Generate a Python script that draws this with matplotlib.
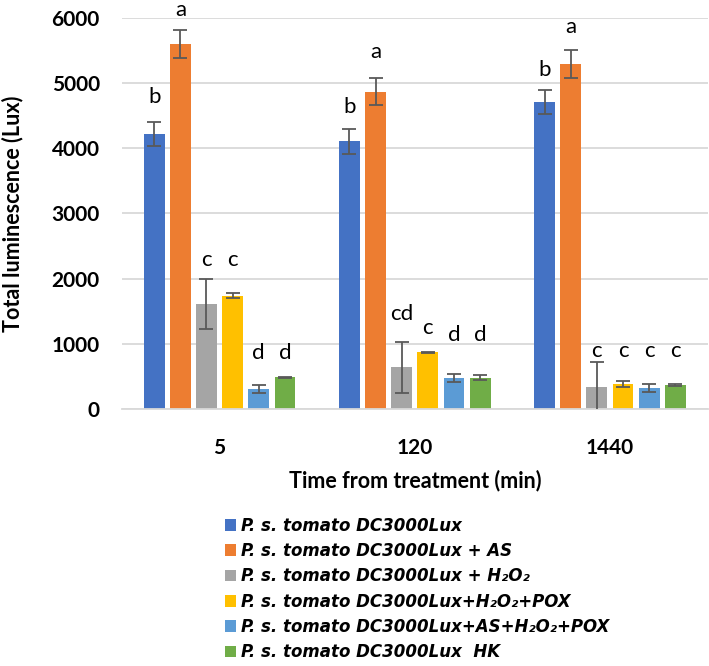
import matplotlib
matplotlib.use("Agg")
import matplotlib.pyplot as plt
from matplotlib.patches import Patch
from matplotlib.font_manager import FontProperties
import numpy as np

# time points (min)
times = ["5", "120", "1440"]

series_names = [
    "P. s. tomato DC3000Lux",
    "P. s. tomato DC3000Lux + AS",
    "P. s. tomato DC3000Lux + H\u2082O\u2082",
    "P. s. tomato DC3000Lux+H\u2082O\u2082+POX",
    "P. s. tomato DC3000Lux+AS+H\u2082O\u2082+POX",
    "P. s. tomato DC3000Lux  HK",
]
colors = ["#4472C4", "#ED7D31", "#A5A5A5", "#FFC000", "#5B9BD5", "#70AD47"]

# mean luminescence per series, one value per time point
lux_wt = [4220, 4110, 4705]
lux_as = [5600, 4870, 5290]
lux_h2o2 = [1610, 640, 333]
lux_h2o2_pox = [1735, 867, 380]
lux_as_h2o2_pox = [303, 472, 323]
lux_hk = [487, 482, 364]

err_wt = [185, 190, 185]
err_as = [210, 210, 215]
err_h2o2 = [385, 390, 390]
err_h2o2_pox = [40, 10, 45]
err_as_h2o2_pox = [65, 65, 65]
err_hk = [10, 45, 15]

# significance letters and where they sit
letters_wt = ["b", "b", "b"]
letters_as = ["a", "a", "a"]
letters_h2o2 = ["c", "cd", "c"]
letters_h2o2_pox = ["c", "c", "c"]
letters_as_h2o2_pox = ["d", "d", "c"]
letters_hk = ["d", "d", "c"]

letter_y_wt = [4790, 4630, 5200]
letter_y_as = [6130, 5480, 5865]
letter_y_h2o2 = [2290, 1450, 885]
letter_y_h2o2_pox = [2290, 1240, 885]
letter_y_as_h2o2_pox = [860, 1140, 885]
letter_y_hk = [860, 1140, 885]

values = [lux_wt, lux_as, lux_h2o2, lux_h2o2_pox, lux_as_h2o2_pox, lux_hk]
errors = [err_wt, err_as, err_h2o2, err_h2o2_pox, err_as_h2o2_pox, err_hk]
letters = [letters_wt, letters_as, letters_h2o2, letters_h2o2_pox, letters_as_h2o2_pox, letters_hk]
letter_ys = [letter_y_wt, letter_y_as, letter_y_h2o2, letter_y_h2o2_pox, letter_y_as_h2o2_pox, letter_y_hk]

plt.rcParams['font.family'] = ['Lato', 'DejaVu Sans']

fig = plt.figure(figsize=(7.09, 6.66), dpi=100)
ax = fig.add_axes([0.172, 0.386, 0.826, 0.587])

x = np.arange(len(times))
width = 0.107
step = 0.134

for i in range(len(values)):
    pos = x + (i - 2.5) * step
    ax.bar(pos, values[i], width, color=colors[i], zorder=2)
    ax.errorbar(pos, values[i], yerr=errors[i], fmt='none', ecolor='#595959',
                elinewidth=1.3, capsize=5, capthick=1.3, zorder=3)
    for j in range(len(times)):
        ax.text(pos[j], letter_ys[i][j], letters[i][j], ha='center', va='center',
                fontsize=16, color='black', clip_on=False)

ax.set_xlim(-0.5, 2.5)
ax.set_ylim(0, 6000)
ax.set_yticks(range(0, 6001, 1000))
ax.set_xticks(x)
ax.set_xticklabels(times)
ax.tick_params(length=0, labelsize=15, pad=16)
for lbl in ax.get_xticklabels() + ax.get_yticklabels():
    lbl.set_fontweight('bold')
ax.tick_params(axis='x', pad=21)

ax.yaxis.grid(True, color='#D9D9D9', linewidth=1.3, zorder=0)
ax.set_axisbelow(True)
for s in ['left', 'right', 'top']:
    ax.spines[s].set_visible(False)
ax.spines['bottom'].set_color('#D9D9D9')
ax.spines['bottom'].set_linewidth(1.3)

ax.set_ylabel("Total luminescence (Lux)", fontsize=15.5, fontweight='bold', labelpad=20)
ax.set_xlabel("Time from treatment (min)", fontsize=15.5, fontweight='bold', labelpad=8)

legend_font = FontProperties(family='DejaVu Sans', size=12, weight='bold', style='oblique')
handles = [Patch(facecolor=c) for c in colors]
fig.legend(handles, series_names, loc='upper left', bbox_to_anchor=(218 / 709, 1 - 510 / 666),
           frameon=False, handlelength=0.7, handleheight=0.7, handletextpad=0.3,
           labelspacing=0.44, borderaxespad=0, prop=legend_font)

fig.savefig("out.png", dpi=100)
